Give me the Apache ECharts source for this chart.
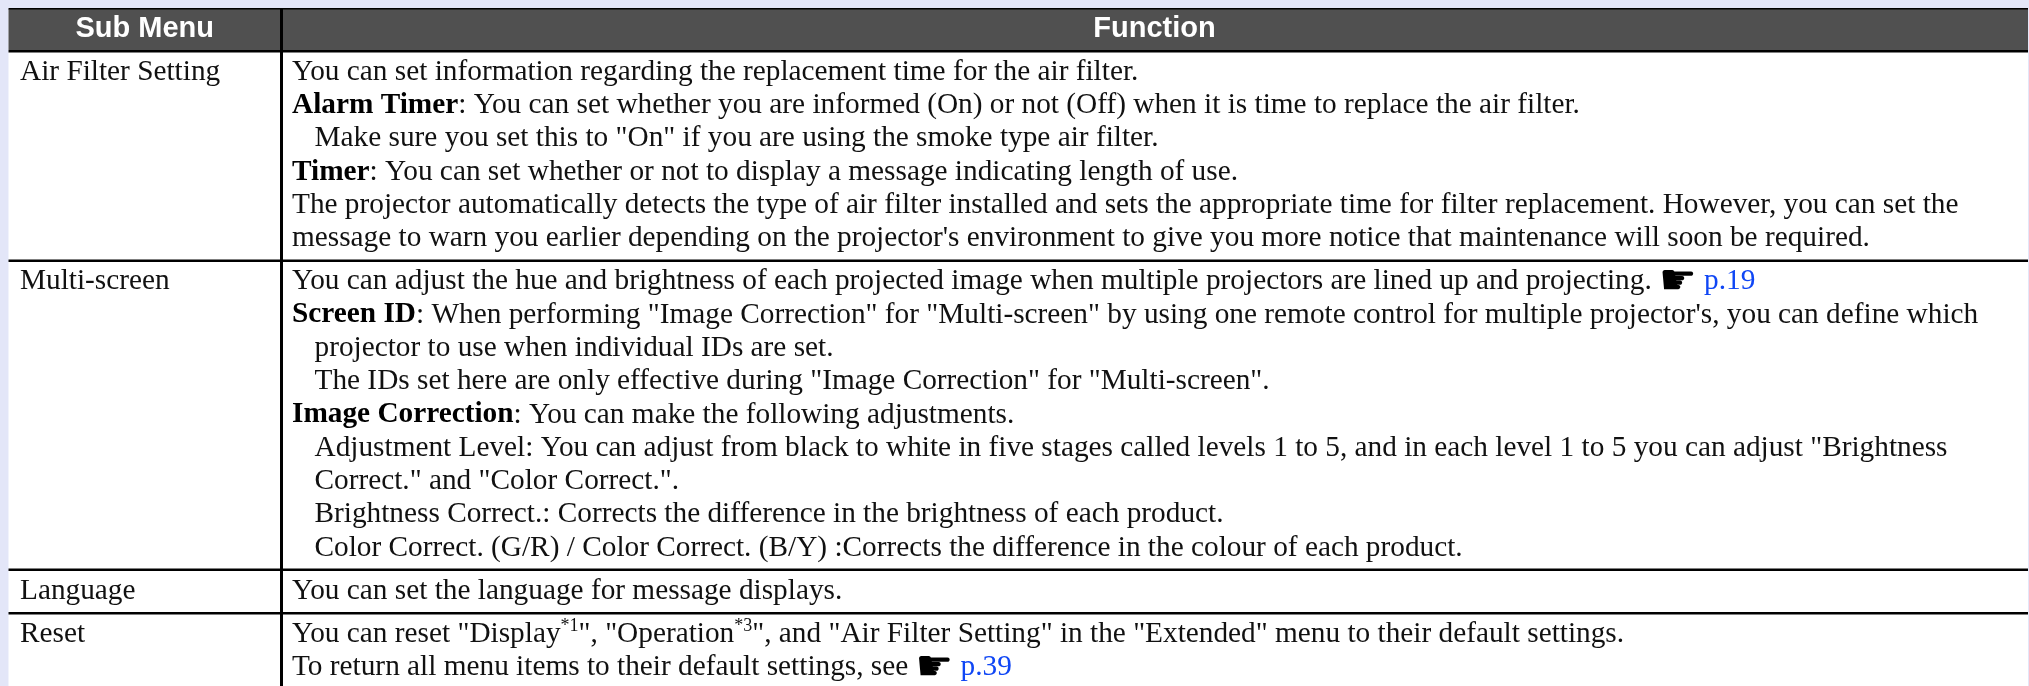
<!DOCTYPE html>
<html><head><meta charset="utf-8">
<style>html,body{margin:0;padding:0;background:#e3e6f8}#c{width:2029px;height:686px}</style>
<script src="https://cdn.jsdelivr.net/npm/echarts@6/dist/echarts.min.js"></script>
</head><body><div id="c"></div>
<script>
// ---- content ----
const headers = ['Sub Menu', 'Function'];
const subMenus = ['Air Filter Setting', 'Multi-screen', 'Language', 'Reset'];
// markup: **bold**, ^superscript^, @@hand glyph@@, {{blue link}}; leading ">" = indented line
const airFilterLines = [
  'You can set information regarding the replacement time for the air filter.',
  '**Alarm Timer**: You can set whether you are informed (On) or not (Off) when it is time to replace the air filter.',
  '>Make sure you set this to "On" if you are using the smoke type air filter.',
  '**Timer**: You can set whether or not to display a message indicating length of use.',
  "The projector automatically detects the type of air filter installed and sets the appropriate time for filter replacement. However, you can set the",
  "message to warn you earlier depending on the projector's environment to give you more notice that maintenance will soon be required."
];
const multiScreenLines = [
  'You can adjust the hue and brightness of each projected image when multiple projectors are lined up and projecting. @@\u261B@@ {{p.19}}',
  "**Screen ID**: When performing \"Image Correction\" for \"Multi-screen\" by using one remote control for multiple projector's, you can define which",
  '>projector to use when individual IDs are set.',
  '>The IDs set here are only effective during "Image Correction" for "Multi-screen".',
  '**Image Correction**: You can make the following adjustments.',
  '>Adjustment Level: You can adjust from black to white in five stages called levels 1 to 5, and in each level 1 to 5 you can adjust "Brightness',
  '>Correct." and "Color Correct.".',
  '>Brightness Correct.: Corrects the difference in the brightness of each product.',
  '>Color Correct. (G/R) / Color Correct. (B/Y) :Corrects the difference in the colour of each product.'
];
const languageLines = ['You can set the language for message displays.'];
const resetLines = [
  'You can reset "Display^*1^", "Operation^*3^", and "Air Filter Setting" in the "Extended" menu to their default settings.',
  'To return all menu items to their default settings, see @@\u261B@@ {{p.39}}'
];
const functionLines = [airFilterLines, multiScreenLines, languageLines, resetLines];

// ---- layout ----
const W = 2029, H = 686;
const T = {left: 8.5, right: 2028, top: 8, headTop: 9, headBottom: 50, divider: 281};
const ruleYs = [50, 259.5, 568.5, 612];
const firstBaselines = [80, 289.4, 599, 642.3];
const lineStep = 33.33;
const col1X = 20, col2X = 292, indent = 22.5;
const FS = 29.3, HFS = 29;
const serif = '"Liberation Serif","Times New Roman",serif';
const sans = '"Liberation Sans",Arial,sans-serif';
const TEXT = '#111', LINK = '#0f46f5';
const midOffset = 0.27 * FS;

const mc = document.createElement('canvas').getContext('2d');
function measure(t, font){ mc.font = font; return mc.measureText(t).width; }
function parse(line){
  const out = []; const re = /\*\*(.+?)\*\*|\^(.+?)\^|@@(.+?)@@|\{\{(.+?)\}\}|([^*^@{]+)/g; let m;
  while ((m = re.exec(line))) {
    if (m[1]) out.push({k:'b', t:m[1]});
    else if (m[2]) out.push({k:'s', t:m[2]});
    else if (m[3]) out.push({k:'h', t:m[3]});
    else if (m[4]) out.push({k:'l', t:m[4]});
    else out.push({k:'n', t:m[5]});
  }
  return out;
}
const seg = {
  n: {font: `${FS}px ${serif}`, fill: TEXT, dy: 0},
  b: {font: `bold ${FS}px ${serif}`, fill: '#000', dy: 0},
  l: {font: `${FS}px ${serif}`, fill: LINK, dy: 0},
  s: {font: `18px ${serif}`, fill: TEXT, dy: -8.6},
  h: {font: `42px "DejaVu Sans"`, fill: '#000', dy: 1.5}
};
const g = [];
function rect(x,y,w,h,fill,z){ g.push({type:'rect', silent:true, z:z||1, shape:{x,y,width:w,height:h}, style:{fill}}); }
function text(x,y,t,font,fill,align){ g.push({type:'text', silent:true, z:5, x, y, style:{text:t, font, fill, align:align||'left', verticalAlign:'middle'}}); }

rect(0,0,W,H,'#e3e6f8',0);
rect(T.left,T.top,T.right-T.left,H-T.top,'#ffffff',1);
rect(T.left,T.headTop,T.right-T.left,T.headBottom-T.headTop,'#505050',2);
rect(T.left,T.top,T.right-T.left,1.5,'#000',3);
ruleYs.forEach(y=>rect(T.left,y,T.right-T.left,2.6,'#000',3));
rect(T.divider-1,T.top,3,H-T.top,'#000',3);

const headFont = `bold ${HFS}px ${sans}`;
text((T.left+T.divider)/2, 29, headers[0], headFont, '#fff', 'center');
text((T.divider+T.right)/2, 29, headers[1], headFont, '#fff', 'center');

subMenus.forEach((s,i)=>{
  text(col1X, firstBaselines[i]-midOffset, s, seg.n.font, TEXT);
  functionLines[i].forEach((ln,j)=>{
    let x = col2X; let raw = ln;
    if (raw[0]==='>'){ x += indent; raw = raw.slice(1); }
    const y = firstBaselines[i]-midOffset+j*lineStep;
    parse(raw).forEach(p=>{
      const st = seg[p.k];
      text(x, y+st.dy, p.t, st.font, st.fill);
      x += measure(p.t, st.font);
    });
  });
});

const chart = echarts.init(document.getElementById('c'), null, {renderer:'canvas', width:W, height:H});
chart.setOption({animation:false, backgroundColor:'#e3e6f8', graphic:{elements:g}});
</script></body></html>
